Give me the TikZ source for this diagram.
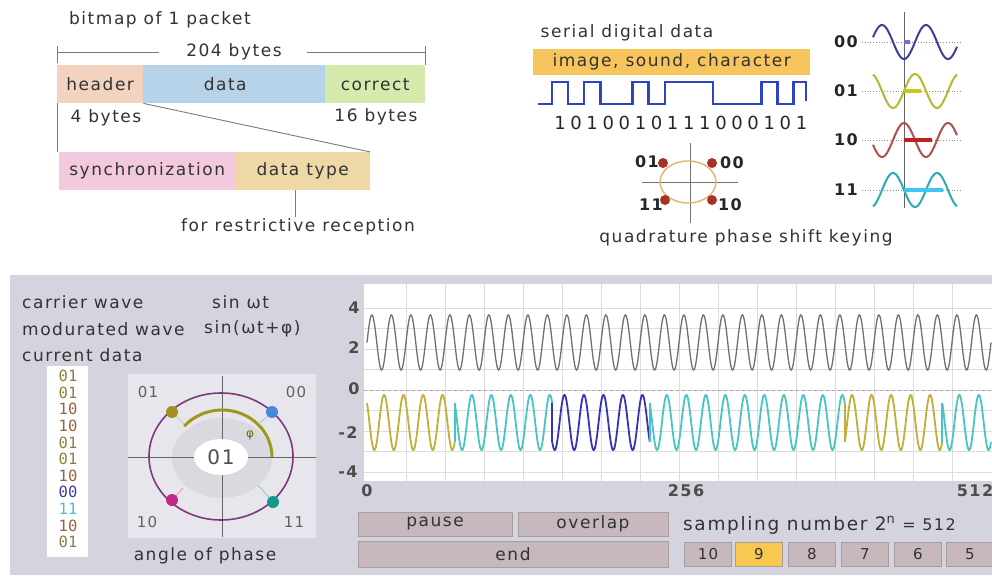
\documentclass[tikz,border=0pt]{standalone}
\usepackage{fontspec}
\setmainfont{DejaVu Sans}[LetterSpace=9]
\newfontfamily\datamono{DejaVu Sans Mono}
\usepackage{graphicx}
\definecolor{txtc}{HTML}{333333}
\definecolor{guidec}{HTML}{7A7A7A}
\definecolor{hdrc}{HTML}{F2D3BF}
\definecolor{datac}{HTML}{B7D3EA}
\definecolor{corrc}{HTML}{D6EAAE}
\definecolor{syncc}{HTML}{F3C9DF}
\definecolor{typec}{HTML}{EDD8A6}
\definecolor{bandc}{HTML}{F8C45C}
\definecolor{sqc}{HTML}{2E44C0}
\definecolor{qring}{HTML}{E2B668}
\definecolor{qdot}{HTML}{A83228}
\definecolor{wa}{HTML}{40409A}
\definecolor{wb}{HTML}{B8B830}
\definecolor{wc}{HTML}{B05050}
\definecolor{wd}{HTML}{30A8B8}
\definecolor{ba}{HTML}{7070D8}
\definecolor{bb}{HTML}{C8C818}
\definecolor{bc}{HTML}{C41E1E}
\definecolor{bd}{HTML}{40C4F0}
\definecolor{panelc}{HTML}{D4D4DE}
\definecolor{phbox}{HTML}{E6E6EC}
\definecolor{ringc}{HTML}{D9D9DF}
\definecolor{purc}{HTML}{803878}
\definecolor{arcc}{HTML}{A09818}
\definecolor{p01}{HTML}{A09020}
\definecolor{p00}{HTML}{4888D8}
\definecolor{p10}{HTML}{C02888}
\definecolor{p11}{HTML}{189888}
\definecolor{d01}{HTML}{8C8040}
\definecolor{d10}{HTML}{9A6040}
\definecolor{d00}{HTML}{3A40A8}
\definecolor{d11}{HTML}{50B8D0}
\definecolor{gridc}{HTML}{DCDCDC}
\definecolor{carc}{HTML}{707070}
\definecolor{m01}{HTML}{C0B038}
\definecolor{m11}{HTML}{48C4C4}
\definecolor{m00}{HTML}{3434B4}
\definecolor{btnc}{HTML}{C6B8BC}
\definecolor{btnedge}{HTML}{A89CA0}
\definecolor{selc}{HTML}{F8C850}
\begin{document}
\begin{tikzpicture}[x=1pt,y=-1pt,
  txt/.style={font=\fontsize{17}{19}\selectfont, text=txtc, inner sep=0pt},
  small/.style={font=\fontsize{15}{17}\selectfont, text=black!62, inner sep=0pt},
  tick/.style={font=\fontsize{16}{18}\selectfont\bfseries, text=black!70, inner sep=0pt},
  boldlbl/.style={font=\fontsize{16}{18}\selectfont\bfseries, text=black!85, inner sep=0pt},
  field/.style={anchor=north west, minimum height=38, inner sep=0pt, font=\fontsize{17}{19}\selectfont, text=txtc},
  guide/.style={draw=guidec, line width=0.9},
  btn/.style={fill=btnc, draw=btnedge, line width=0.6, font=\fontsize{17}{19}\selectfont, text=txtc, inner sep=0pt, minimum height=24},
  numbtn/.style={btn, minimum width=47, font=\fontsize{15}{17}\selectfont}
]
\fill[white] (0,0) rectangle (992,575);
\useasboundingbox (0,0) rectangle (992,575);

% ---------- packet bitmap ----------
\node[txt] (title) at (160,20) {bitmap of 1 packet};
\node[txt] (total) at (234,52) {204 bytes};
\coordinate (dimL) at (57,52);
\coordinate (dimR) at (425,52);
\draw[guide] (dimL) -- ([xshift=-27pt]total.west);
\draw[guide] ([xshift=25pt]total.east) -- (dimR);
\draw[guide] ([yshift=6pt]dimL) -- ([yshift=-11pt]dimL);
\draw[guide] ([yshift=6pt]dimR) -- ([yshift=-13pt]dimR);
\node[field, fill=hdrc, minimum width=86] (header) at (57,65) {header};
\node[field, fill=datac, minimum width=182] (data) at (143,65) {\hspace*{-18pt}data};
\node[field, fill=corrc, minimum width=100] (correct) at (325,65) {correct};
\node[txt] (hb) at (106,118) {4 bytes};
\node[txt] (cb) at (376,117) {16 bytes};
\node[field, fill=syncc, minimum width=176] (sync) at (59,152) {synchronization};
\node[field, fill=typec, minimum width=135] (dtype) at (235,152) {data type};
\draw[guide] (header.south west) -- (header.south west |- sync.north);
\draw[guide] (header.south east) -- (dtype.north east);
\node[txt] (rcv) at (298,227) {for restrictive reception};
\coordinate (rcvtop) at (295,217);
\draw[guide] (rcvtop |- dtype.south) -- (rcvtop);

% ---------- serial digital data ----------
\node[txt] (serial) at (627,33) {serial digital data};
\node[anchor=north west, fill=bandc, minimum width=277, minimum height=26, inner sep=0pt,
      font=\fontsize{17}{19}\selectfont, text=txtc] (band) at (533,49) {image, sound, character};
\draw[sqc, line width=2.4, line join=miter]
  (538,104) -- (552,104) -- (552,82) -- (568.1,82) -- (568.1,104) -- (584.2,104) -- (584.2,82)
  -- (600.3,82) -- (600.3,104) -- (632.5,104) -- (632.5,82) -- (648.6,82) -- (648.6,104)
  -- (664.7,104) -- (664.7,82) -- (713,82) -- (713,104) -- (761.3,104) -- (761.3,82)
  -- (777.4,82) -- (777.4,104) -- (793.5,104) -- (793.5,82) -- (806,82) -- (806,101);
\foreach \d [count=\i from 0] in {1,0,1,0,0,1,0,1,1,1,0,0,0,1,0,1}
  \node[font=\fontsize{18}{20}\selectfont, text=black!85, inner sep=0pt] (bit\i) at ({560+16.1*\i},123) {\d};

% QPSK constellation
\draw[black!55, line width=0.8] (642,182) -- (738,182);
\draw[black!55, line width=0.8] (690,143) -- (690,223);
\draw[qring, line width=1.4] (688,182) ellipse [x radius=28, y radius=21];
\fill[qdot] (663,163) circle[radius=5];
\fill[qdot] (712,163) circle[radius=5];
\fill[qdot] (665,200) circle[radius=5];
\fill[qdot] (712,200) circle[radius=5];
\node[boldlbl] (q01) at (647,162) {01};
\node[boldlbl] (q00) at (732,163) {00};
\node[boldlbl] (q11) at (651,205) {11};
\node[boldlbl] (q10) at (730,205) {10};
\node[txt] (qpsk) at (746,238) {quadrature phase shift keying};

% phase waves
\draw[black!60, line width=0.8] (904,12) -- (904,208);
\foreach \lab/\cy/\ph/\len/\wcol/\bcol in {00/42/-90/6/wa/ba, 01/91/0/17/wb/bb, 10/140/90/28/wc/bc, 11/190/180/39/wd/bd} {
  \draw[dotted, black!45, line width=0.8] (862,\cy) -- (962,\cy);
  \draw[\wcol, line width=2] plot[domain=-31:53, samples=90] ({904+\x},{\cy-17*sin(8.1818*\x+\ph)});
  \draw[\bcol, line width=4.5] (904,\cy) -- ++(\len,0);
  \node[boldlbl] (k\lab) at (846,\cy) {\lab};
}

% ---------- bottom panel ----------
\fill[panelc] (10,275) rectangle (992,575);
\node[txt, anchor=west] (carrier) at (22,302) {carrier wave};
\node[txt, anchor=west] (modw) at (22,329) {modurated wave};
\node[txt, anchor=west] (curd) at (22,355) {current data};
\node[txt, anchor=west] (sinw) at (212,302) {sin ωt};
\node[txt, anchor=west] (sinwp) at (204,329) {sin(ωt+φ)};

% current data column
\fill[white] (47,366) rectangle (88,557);
\node[align=center, inner sep=0pt, font=\datamono\fontsize{15.5}{16.6}\selectfont] (curlist) at (68,459)
  {\textcolor{d01}{01}\\ \textcolor{d01}{01}\\ \textcolor{d10}{10}\\ \textcolor{d10}{10}\\
   \textcolor{d01}{01}\\ \textcolor{d01}{01}\\ \textcolor{d10}{10}\\ \textcolor{d00}{00}\\
   \textcolor{d11}{11}\\ \textcolor{d10}{10}\\ \textcolor{d01}{01}};

% angle of phase diagram
\fill[phbox] (128,374) rectangle (316,538);
\fill[ringc] (222,458) ellipse [x radius=50, y radius=40];
\draw[black!60, line width=0.8] (222,376) -- (222,537);
\draw[black!60, line width=0.8] (128,457) -- (316,457);
\fill[white] (221,457) ellipse [x radius=27, y radius=18];
\draw[purc, line width=1.6] (221,456.5) ellipse [x radius=72, y radius=63.5];
\draw[p01!45, line width=1] (172,412) -- (186,426);
\draw[p00!45, line width=1] (272,412) -- (260,423);
\draw[p10!45, line width=1] (172,500) -- (183,488);
\draw[p11!45, line width=1] (273,502) -- (258,485);
\draw[arcc, line width=3] (272,457) arc[start angle=0, end angle=-139, x radius=50, y radius=47];
\fill[p01] (172,412) circle[radius=6];
\fill[p00] (272,412) circle[radius=6];
\fill[p10] (172,500) circle[radius=6];
\fill[p11] (273,502) circle[radius=6];
\node[font=\fontsize{12}{14}\selectfont, text=arcc!70!black, inner sep=0pt] (phi) at (250,435) {φ};
\node[font=\fontsize{20}{22}\selectfont, text=black!70, inner sep=0pt] (cur) at (221,457) {01};
\node[small] (a01) at (148,392) {01};
\node[small] (a00) at (296,392) {00};
\node[small] (a10) at (147,522) {10};
\node[small] (a11) at (294,522) {11};
\node[txt] (angle) at (205,556) {angle of phase};

% graph
\fill[white] (364,284) rectangle (992,481);
\foreach \k in {1,...,15} \draw[gridc, line width=0.8] ({367+39*\k},284) -- ({367+39*\k},481);
\foreach \v in {-4,...,4} \draw[gridc, line width=0.8] (364,{390-20.5*\v}) -- (992,{390-20.5*\v});
\draw[black!35, dashed, line width=0.8] (364,390) -- (992,390);
\node[tick] (y4) at (354,308) {4};
\node[tick] (y2) at (354,348) {2};
\node[tick] (y0) at (354,389) {0};
\node[tick] (ym2) at (348,433) {-2};
\node[tick] (ym4) at (348,472) {-4};
\node[tick] (x0) at (367,491) {0};
\node[tick] (x256) at (686,491) {256};
\node[tick] (x512) at (975,491) {512};
\draw[carc, line width=1.3] plot[domain=0:512, samples=1025] ({367+1.21875*\x},{342.5-27.5*sin(22.5*\x)});
\foreach \a/\b/\p/\q/\col in {0/72/135/135/m01, 72/152/315/135/m11, 152/232/45/315/m00, 232/392/315/45/m11, 392/472/135/315/m01, 472/512/315/135/m11} {
  \draw[\col, line width=1.8] ({367+1.21875*\a},{422.5-27.5*sin(22.5*\a+\q)}) -- ({367+1.21875*\a},{422.5-27.5*sin(22.5*\a+\p)});
  \draw[\col, line width=1.8] plot[domain=\a:\b, samples=321] ({367+1.21875*\x},{422.5-27.5*sin(22.5*\x+\p)});
}

% buttons
\node[btn, minimum width=154] (pause) at (435,524) {pause};
\node[btn, minimum width=150] (overlap) at (593,524) {overlap};
\node[btn, minimum width=310, minimum height=26] (endb) at (513,554) {end};
\node[font=\fontsize{18.5}{20}\selectfont, text=txtc, inner sep=0pt, anchor=west] (samp) at (683,525)
  {sampling number 2\textsuperscript{n}\hspace{7pt}{\fontsize{16}{18}\selectfont = 512}};
\node[numbtn] (n10) at (708,554) {10};
\node[numbtn, fill=selc] (n9) at (759,554) {9};
\node[numbtn] (n8) at (812,554) {8};
\node[numbtn] (n7) at (865,554) {7};
\node[numbtn] (n6) at (918,554) {6};
\node[numbtn] (n5) at (970,554) {5};
\end{tikzpicture}
\end{document}
